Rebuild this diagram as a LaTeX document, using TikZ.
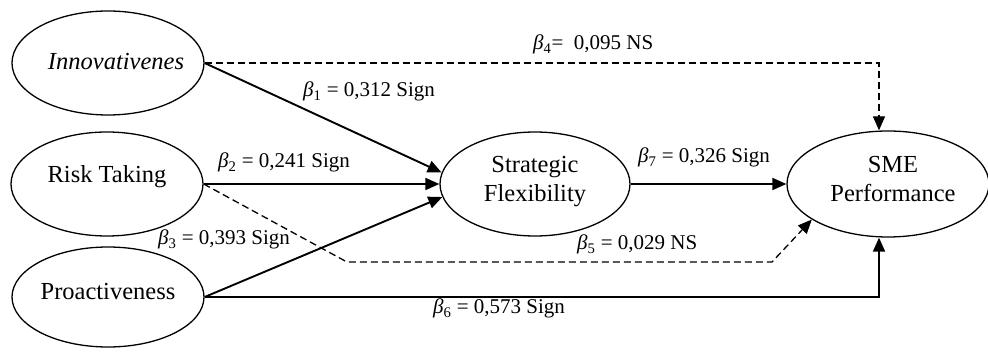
\documentclass[tikz,border=0pt]{standalone}
\usepackage{fontspec}
\setmainfont{Liberation Serif}
\usetikzlibrary{shapes.geometric,arrows.meta,calc}
\newcommand{\bsub}[1]{{\itshape β}\textsubscript{#1}}
\tikzset{
  ell/.style={draw, ellipse, line width=1.3pt, inner sep=0pt},
  ntext/.style={anchor=base, inner sep=0pt, font=\fontsize{24.5}{29}\selectfont},
  lbl/.style={anchor=base west, inner sep=0pt, font=\fontsize{21}{24}\selectfont},
  conn/.style={line width=1.9pt, -{Triangle[length=14pt,width=12pt]}},
  dconn/.style={line width=1.3pt, dash pattern=on 7pt off 4pt, -{Triangle[length=14pt,width=12pt]}}
}
\begin{document}
\begin{tikzpicture}[x=1pt,y=-1pt]
\useasboundingbox (0,0) rectangle (988,352);
% ellipses
\node[ell, minimum width=192pt, minimum height=104pt] (I) at (108,63) {};
\node[ell, minimum width=192pt, minimum height=104pt] (RT) at (107,184) {};
\node[ell, minimum width=192pt, minimum height=100pt] (P) at (108,297) {};
\node[ell, minimum width=190pt, minimum height=104pt] (SF) at (535,184) {};
\node[ell, minimum width=202pt, minimum height=106pt] (SME) at (888,184) {};
% texts
\node[ntext] (tI) at (116,70) {\itshape Innovativenes};
\node[ntext] (tRT) at (107,183) {Risk Taking};
\node[ntext] (tP) at (108,300) {Proactiveness};
\node[ntext] (tSF1) at (535,173) {Strategic};
\node[ntext] (tSF2) at (535,202) {Flexibility};
\node[ntext] (tSME1) at (893,173) {SME};
\node[ntext] (tSME2) at (893,202) {Performance};
% connector helper coordinates
\coordinate (d1) at (347,262);
\coordinate (d2) at (772,262);
% connectors
\draw[dconn] (I.east) -| ([xshift=-9pt]SME.north);
\draw[conn] (I.east) -- (SF.173);
\draw[conn] (RT.east) -- (SF.west);
\draw[dconn] (RT.east) -- (d1) -- (d2) -- (SME.205);
\draw[conn] (P.east) -- (SF.188);
\draw[conn] (P.east) -| ([xshift=-9pt]SME.south);
\draw[conn] (SF.east) -- (SME.west);
% labels
\node[lbl] (b1) at (303,97) {\bsub{1} = 0,312 Sign};
\node[lbl] (b2) at (218,168) {\bsub{2} = 0,241 Sign};
\node[lbl] (b3) at (158,245) {\bsub{3} = 0,393 Sign};
\node[lbl] (b4) at (533,50) {\bsub{4}=\ \ 0,095 NS};
\node[lbl] (b5) at (577,250) {\bsub{5} = 0,029 NS};
\node[lbl] (b6) at (433,314) {\bsub{6} = 0,573 Sign};
\node[lbl] (b7) at (638,163) {\bsub{7} = 0,326 Sign};
\end{tikzpicture}
\end{document}
